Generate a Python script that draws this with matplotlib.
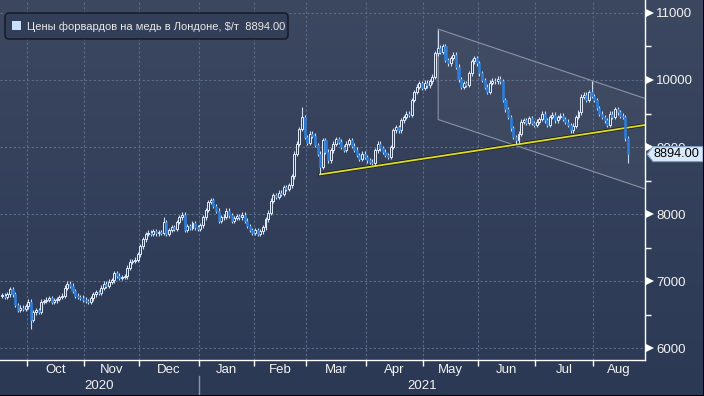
import numpy as np
import pandas as pd
import matplotlib
matplotlib.use('Agg')
import matplotlib.pyplot as plt
from matplotlib.patches import Polygon, FancyBboxPatch, Rectangle
from matplotlib.colors import LinearSegmentedColormap
from matplotlib import transforms

plt.rcParams['font.family'] = ['Liberation Sans', 'DejaVu Sans']

W, H = 704, 396

# trading days shown on the chart
dates = pd.bdate_range('2020-09-17', '2021-08-19')

# daily closes, $/t
closes = [
    # Sep 2020
    6780, 6760, 6800, 6880, 6800, 6640, 6570, 6600, 6580, 6620,
    # Oct
    6690, 6420, 6530, 6560, 6540, 6690, 6700, 6720, 6740, 6690, 6710,
    6730, 6760, 6780, 6900, 6960, 6930, 6850, 6780, 6760, 6750, 6720,
    # Nov
    6700, 6690, 6740, 6800, 6830, 6820, 6900, 6960, 6930, 6990, 7010,
    7120, 7080, 7050, 7060, 7070, 7200, 7290, 7300, 7320, 7400,
    # Dec
    7520, 7620, 7700, 7720, 7700, 7740, 7710, 7730, 7720, 7880, 7700,
    7760, 7800, 7780, 7880, 7950, 7990, 7760, 7820, 7790, 7860, 7800, 7780,
    # Jan 2021
    7830, 7950, 8060, 8180, 8210, 8120, 8050, 7900, 7950, 7960, 8050,
    7980, 7900, 7940, 7970, 7950, 7990, 7900, 7820, 7760, 7720,
    # Feb
    7760, 7700, 7740, 7800, 7920, 8020, 8200, 8280, 8260, 8320,
    8300, 8400, 8380, 8430, 8560, 8900, 9050, 9270, 9450, 9150,
    # Mar
    9060, 9200, 9170, 9030, 8900, 8700, 9100, 8930, 8800, 8950, 9050,
    9120, 9080, 9000, 8960, 9050, 9100, 9020, 8960, 8880, 8820, 8900, 8850,
    # Apr
    8800, 8780, 8760, 8950, 9050, 8980, 8930, 8880, 8850, 9000, 9250,
    9300, 9250, 9400, 9450, 9500, 9480, 9700, 9820, 9900, 9950, 9880,
    # May
    9960, 9920, 9980, 10050, 10400, 10480, 10420, 10500, 10300, 10250, 10330,
    10380, 10200, 10010, 9900, 9950, 9930, 10100, 10280, 10330, 10250,
    # Jun
    10100, 10000, 9900, 9820, 9960, 9990, 9980, 10020, 9980, 9700, 9560,
    9450, 9280, 9150, 9100, 9200, 9380, 9400, 9360, 9430, 9360, 9330,
    # Jul
    9380, 9420, 9500, 9400, 9330, 9450, 9480, 9400, 9450, 9470, 9420,
    9380, 9330, 9250, 9320, 9450, 9520, 9750, 9780, 9700, 9820, 9760,
    # Aug
    9700, 9580, 9500, 9450, 9400, 9330, 9500, 9450, 9560, 9520, 9470,
    9450, 9130, 8894,
]

# notable wicks
spike_hi_idx = [26, 62, 115, 167, 226]
spike_hi = [7000, 7960, 9600, 10740, 9980]
spike_lo_idx = [11, 122, 197, 240]
spike_lo = [6290, 8600, 9040, 8760]

# trend lines: (trading-day index, price)
support = [(121.8, 8590), (240, 9290)]
channel_top = [(167.2, 10760), (240, 9810)]
channel_width = 1350

yticks = [6000, 7000, 8000, 9000, 10000, 11000]
month_names = ['Oct', 'Nov', 'Dec', 'Jan', 'Feb', 'Mar', 'Apr', 'May', 'Jun', 'Jul', 'Aug']
legend_label = 'Цены форвардов на медь в Лондоне, $/т'

fig = plt.figure(figsize=(W / 100, H / 100), dpi=100)

# background gradient
bg = fig.add_axes([0, 0, 1, 1], zorder=-10)
cmap = LinearSegmentedColormap.from_list('bg', ['#3c4760', '#2b3955'])
bg.imshow(np.linspace(0, 1, 256).reshape(-1, 1), aspect='auto', cmap=cmap,
          extent=[0, 1, 0, 1], origin='upper')
bg.axis('off')

ax = fig.add_axes([0, 36 / H, 645 / W, 1 - 36 / H])
ax.set_facecolor('none')

x = np.arange(len(closes))
c = np.array(closes, dtype=float)
o = np.r_[c[0], c[:-1]]
hi = np.maximum(o, c) + 35
lo = np.minimum(o, c) - 35
hi[spike_hi_idx] = spike_hi
lo[spike_lo_idx] = spike_lo
up = c >= o
body = np.maximum(np.abs(c - o), 10)

xmin, xmax = -0.8, 246.5

# channel
cx = np.array([channel_top[0][0], xmax + 2])
slope = (channel_top[1][1] - channel_top[0][1]) / (channel_top[1][0] - channel_top[0][0])
top_y = channel_top[0][1] + slope * (cx - channel_top[0][0])
poly = Polygon([(cx[0], top_y[0]), (cx[1], top_y[1]),
                (cx[1], top_y[1] - channel_width), (cx[0], top_y[0] - channel_width)],
               closed=True, facecolor=(1, 1, 1, 0.035), edgecolor='#8a93a6', lw=0.8, zorder=1)
ax.add_patch(poly)

# support line
sx = np.array([support[0][0], xmax + 2])
sslope = (support[1][1] - support[0][1]) / (support[1][0] - support[0][0])
ax.plot(sx, support[0][1] + sslope * (sx - support[0][0]), color='#1c1c10', lw=2.4, zorder=2)
ax.plot(sx, support[0][1] + sslope * (sx - support[0][0]), color='#dcdc2c', lw=1.3, zorder=2)

# candles
ax.vlines(x, lo, hi, color='#cddcf0', lw=0.8, zorder=3)
ax.bar(x[up], body[up], bottom=np.minimum(o, c)[up], width=0.75,
       facecolor='#33405a', edgecolor='#e2ecfa', lw=0.7, zorder=4)
ax.bar(x[~up], body[~up], bottom=c[~up], width=0.8,
       color='#2b7edc', edgecolor='#2b7edc', lw=0.4, zorder=4)

ax.set_xlim(xmin, xmax)
ax.set_ylim(5821, 11194)

# month boundaries
month_start = [i for i in range(1, len(dates)) if dates[i].month != dates[i - 1].month]
bounds = [i - 0.5 for i in month_start]
ax.set_xticks(bounds)
ax.set_xticklabels([''] * len(bounds))
ax.set_yticks(yticks)
ax.set_yticks(np.arange(6500, 11000, 1000), minor=True)
ax.grid(True, which='major', ls=(0, (2, 2)), color='#5b6d89', lw=0.8)
ax.set_axisbelow(True)

ax.yaxis.tick_right()
ax.tick_params(axis='y', which='major', length=0, pad=8, labelsize=9.5, labelcolor='#f2f2f2')
ax.tick_params(axis='y', which='minor', length=4, width=1, color='white', direction='out')
ax.tick_params(axis='x', length=4, width=1, color='white', direction='out')

for s in ['top', 'left']:
    ax.spines[s].set_visible(False)
for s in ['right', 'bottom']:
    ax.spines[s].set_color('white')
    ax.spines[s].set_linewidth(1)

# triangles on major y ticks
tri = transforms.blended_transform_factory(ax.transAxes, ax.transData) + \
    transforms.ScaledTranslation(4.5 / 100, 0, fig.dpi_scale_trans)
ax.plot([1] * len(yticks), yticks, ls='none', marker='>', ms=5.5, color='white',
        mew=0, transform=tri, clip_on=False)

# month and year labels
xt = transforms.blended_transform_factory(ax.transData, ax.transAxes)
edges = [xmin] + bounds + [xmax]
for k, name in enumerate(month_names):
    mid = (edges[k + 1] + edges[k + 2]) / 2
    ax.text(mid, -10 / 360, name, transform=xt, ha='center', va='center',
            fontsize=9.5, color='#f2f2f2')
jan = bounds[3]
ax.text((xmin + jan) / 2, -26 / 360, '2020', transform=xt, ha='center', va='center',
        fontsize=9.5, color='#f2f2f2')
ax.text((jan + xmax) / 2, -26 / 360, '2021', transform=xt, ha='center', va='center',
        fontsize=9.5, color='#f2f2f2')
ax.plot([jan, jan], [-16 / 360, -40 / 360], transform=xt, color='#8a95aa', lw=1, clip_on=False)

# overlays in pixel coordinates
pix = transforms.IdentityTransform()


def P(px, py):
    return (px, H - py)


leg = FancyBboxPatch(P(5, 39), 283, 26, boxstyle='round,pad=0,rounding_size=4',
                     facecolor='#333f58', edgecolor='#121620', lw=1, transform=pix, zorder=5)
fig.add_artist(leg)
fig.add_artist(Rectangle(P(12, 30), 9, 9, facecolor='#c8e0fc', edgecolor='none',
                         transform=pix, zorder=6))
fig.text(27 / W, 1 - 26.5 / H, f'{legend_label}  {closes[-1]:.2f}', ha='left', va='center',
         fontsize=8, color='#e8e8e8', zorder=6)

ty = H - (ax.transData.transform((0, closes[-1]))[1])
tag = Polygon([P(647, ty), P(653, ty - 7.5), P(703, ty - 7.5), P(703, ty + 7.5), P(653, ty + 7.5)],
              closed=True, facecolor='#d8e9fb', edgecolor='#7f9dc2', lw=0.8, transform=pix, zorder=7)
fig.add_artist(tag)
fig.text(653.5 / W, 1 - ty / H, f'{closes[-1]:.2f}', ha='left', va='center',
         fontsize=9.2, color='black', zorder=8)

# dark frame on right/bottom edge
fig.add_artist(Rectangle((W - 1.5, 0), 2, H, facecolor='black', edgecolor='none', transform=pix, zorder=9))
fig.add_artist(Rectangle((0, -0.5), W, 1.5, facecolor='black', edgecolor='none', transform=pix, zorder=9))

fig.savefig('out.png', dpi=100)
